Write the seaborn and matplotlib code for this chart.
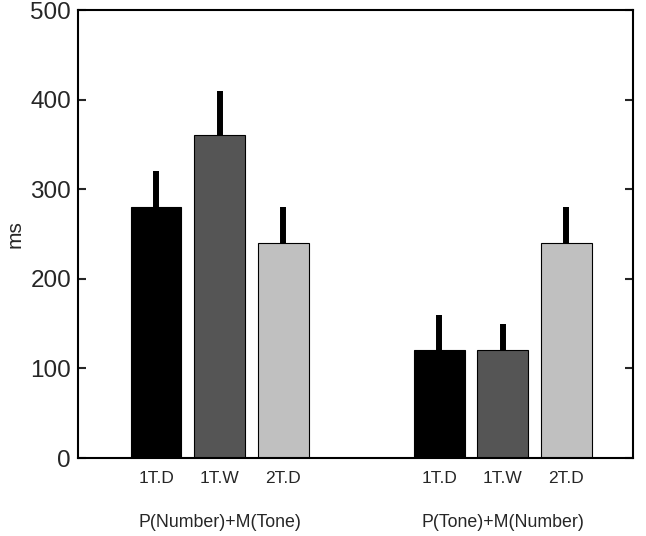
import numpy as np
import pandas as pd
import seaborn as sns
import matplotlib
matplotlib.use("Agg")
import matplotlib.pyplot as plt

# values
groups = ["P(Number)+M(Tone)", "P(Tone)+M(Number)"]
conditions = ["1T.D", "1T.W", "2T.D"]
means = [[280, 360, 240], [120, 120, 240]]
errors = [[40, 50, 40], [40, 30, 40]]
colors = ["#000000", "#555555", "#c0c0c0"]

group_step = 4.46  # distance between group starts (in bar slots)

rows = []
for g, grp in enumerate(groups):
    for i, cond in enumerate(conditions):
        rows.append({"group": grp, "cond": cond, "pos": g * group_step + i,
                     "ms": means[g][i], "err": errors[g][i]})
df = pd.DataFrame(rows)

sns.set_style("white")
plt.rcParams["font.family"] = ["Liberation Sans", "DejaVu Sans"]

fig = plt.figure(figsize=(6.46, 5.36), dpi=100)
ax = fig.add_axes([0.1207, 0.1455, 0.8593, 0.8358])

sns.barplot(data=df, x="pos", y="ms", hue="cond", hue_order=conditions,
            palette=colors, native_scale=True, dodge=False, width=0.8,
            edgecolor="black", linewidth=0.8, errorbar=None, legend=False, ax=ax)

# one-sided error bars
ax.errorbar(df["pos"], df["ms"], yerr=[np.zeros(len(df)), df["err"]],
            fmt="none", ecolor="black", elinewidth=4.3, capsize=0, zorder=3)

ax.set_xlim(-1.23, 7.51)
ax.set_ylim(0, 500)
ax.set_yticks([0, 100, 200, 300, 400, 500])
ax.set_xticks(df["pos"])
ax.set_xticklabels(df["cond"], fontsize=12.5)
ax.set_xlabel("")
ax.set_ylabel("ms", fontsize=15, labelpad=4)
ax.tick_params(axis="y", labelsize=17.5, direction="in", length=6, width=1.5,
               left=True, right=True, pad=5)
ax.tick_params(axis="x", length=0, pad=9)
for s in ax.spines.values():
    s.set_linewidth(1.5)
    s.set_color("black")

# group labels under the tick labels
for g, grp in enumerate(groups):
    ax.text(g * group_step + 1, -0.143, grp, transform=ax.get_xaxis_transform(),
            ha="center", va="center", fontsize=12.8)

fig.savefig("out.png", dpi=100)
